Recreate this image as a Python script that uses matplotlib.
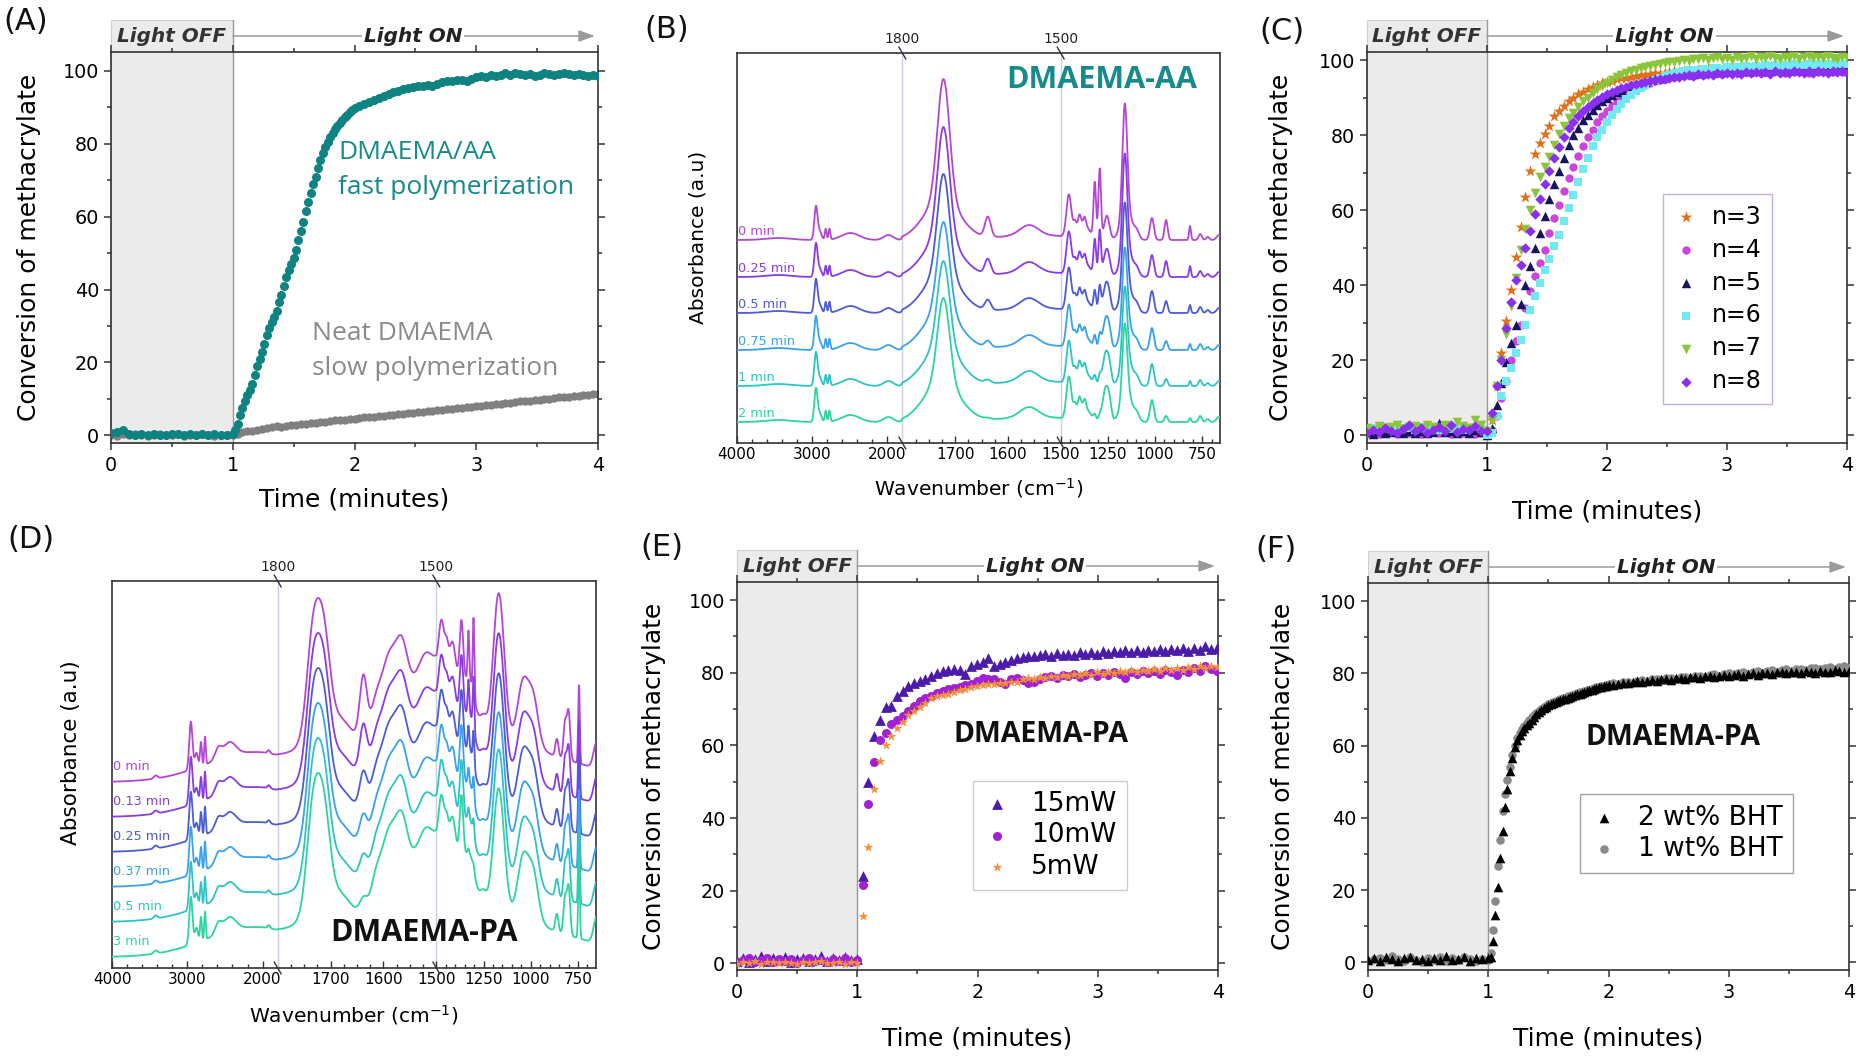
import numpy as np
import matplotlib
matplotlib.use('Agg')
import matplotlib.pyplot as plt
import matplotlib.transforms as mtrans
from matplotlib.ticker import FixedLocator, MultipleLocator, NullFormatter
from matplotlib.patches import Rectangle

plt.rcParams['font.family'] = ['DejaVu Sans']
plt.rcParams['axes.edgecolor'] = '#333333'
plt.rcParams['axes.linewidth'] = 1.2

# ---------------- data: panel A ----------------
A_OFF_TEAL = [0.6, 0.9, 1.6, 0.5, 0.2, 0.3, 0.0, 0.4, 0.1, 0.2, 0.5, 0.3, 0.1, 0.4, 0.0, 0.3, 0.2, 0.4, 0.1, 0.2]
A_OFF_GRAY = [0.2, -0.1, 0.3, 0.0, 0.4, 0.1, -0.2, 0.2, 0.3, 0.0, 0.1, 0.4, -0.1, 0.2, 0.0, 0.3, 0.1, -0.1, 0.2, 0.0]
A_TEAL_1 = [0.5, 1.5, 3.0, 5.5, 7.5, 9.5, 11.0, 12.5, 14.0, 16.5, 19.0, 21.0, 23.0, 25.0, 27.5, 29.5, 31.0,
            32.5, 34.0, 36.5, 38.5, 41.0, 43.5, 45.5, 47.0, 48.8, 51.0, 53.5, 56.0, 58.5, 61.5, 64.0, 66.5,
            69.0, 71.0, 73.5, 75.5, 77.5, 79.0, 80.5, 82.0, 83.0, 84.0, 85.0, 85.8, 86.6, 87.3, 88.0, 88.6,
            89.2, 89.8]
A_TEAL_2 = [90.4, 91.0, 91.5, 92.0, 92.6, 93.2, 93.6, 94.2, 94.5, 95.0, 95.3, 95.6, 95.9, 96.0, 96.2, 96.0,
            96.5, 97.0, 97.3, 97.2, 97.5, 97.6, 97.2, 97.8, 98.3, 98.6, 98.4, 98.9, 98.6, 98.9, 99.3, 99.0,
            99.4, 99.1, 98.9, 99.2, 98.7, 99.0, 99.4, 99.1, 98.8, 99.2, 99.5, 99.1, 98.8, 99.2, 99.0, 98.6,
            98.9, 98.7]
A_GRAY = [0.0, 0.4, 0.8, 1.1, 1.3, 1.6, 1.8, 2.0, 2.2, 2.5, 2.4, 2.6, 2.8, 2.9, 3.0, 3.2, 3.4, 3.3, 3.6, 3.7,
          3.9, 4.1, 4.1, 4.3, 4.5, 4.6, 4.7, 4.9, 5.0, 5.1, 5.3, 5.4, 5.5, 5.7, 5.8, 5.9, 6.1, 6.2, 6.3, 6.5,
          6.6, 6.8, 6.9, 7.0, 7.2, 7.3, 7.4, 7.6, 7.7, 7.9, 8.0, 8.1, 8.3, 8.4, 8.6, 8.7, 8.8, 9.0, 9.1, 9.3,
          9.4, 9.5, 9.7, 9.8, 10.0, 10.1, 10.2, 10.4, 10.5, 10.6, 10.8, 10.9, 11.0, 11.2, 11.3, 11.4]

# ---------------- data: panel C ----------------
C_LABELS = ['n=3', 'n=4', 'n=5', 'n=6', 'n=7', 'n=8']
C_OFF = [
    [1.2, 0.8, 1.5, 0.6, 1.0, 1.8, 0.9, 1.3, 0.7, 1.6, 1.1, 0.8, 1.4, 1.9, 1.0, 0.6, 1.2, 1.7, 1.1, 2.0],
    [0.5, 1.0, 0.3, 0.8, 1.2, 0.4, 0.9, 0.6, 1.1, 0.2, 0.7, 1.3, 0.5, 0.9, 0.4, 1.0, 0.6, 0.8, 0.3, 0.7],
    [0.8, 0.4, 1.1, 0.6, 0.9, 1.4, 0.5, 1.0, 0.7, 1.2, 0.6, 0.9, 3.2, 0.8, 1.1, 0.5, 1.0, 0.7, 1.3, 0.9],
    [1.6, 1.9, 1.3, 2.2, 1.7, 1.4, 2.0, 1.8, 1.5, 2.3, 1.6, 1.9, 1.4, 2.1, 1.7, 2.0, 1.5, 1.8, 2.2, 1.6],
    [2.0, 1.5, 2.4, 1.8, 2.2, 2.8, 1.6, 2.1, 2.5, 1.9, 2.7, 2.3, 1.8, 2.6, 2.0, 3.5, 2.4, 1.9, 4.0, 2.6],
    [0.6, 1.4, 0.9, 2.0, 1.2, 0.5, 1.6, 2.6, 1.0, 1.8, 0.7, 1.5, 2.2, 1.1, 2.8, 0.9, 1.7, 1.3, 2.4, 1.0],
]
C_ON = [
    [0.5, 4, 13, 22, 30.5, 38.7, 47.5, 55.5, 63.5, 70.5, 75, 78, 80.4, 82.5, 85, 86.5, 87.8, 89, 90, 91,
     91.6, 92.3, 92.8, 93.3, 93.8, 94.2, 94.5, 94.9, 95.2, 95.3, 95.6, 95.8, 96.0, 96.1, 96.3, 96.5, 96.4,
     96.7, 96.9, 97.0, 96.8, 97.1, 97.3, 96.9, 97.4, 97.2, 97.6, 97.0, 97.5, 97.3, 97.8, 97.2, 97.6, 97.4,
     97.9, 97.3, 97.7, 97.5, 97.2, 97.8, 97.4, 97.6, 98.0, 97.3, 97.7, 97.5, 97.9, 97.4, 97.8, 97.6, 98.1,
     97.5, 97.7, 97.9, 97.4, 97.8],
    [0, 1.5, 5, 10, 14.5, 20, 25, 29.5, 34, 38.5, 42.5, 46, 49.5, 54, 58, 61.5, 65, 68.5, 71.5, 74.5, 77,
     79.5, 81.5, 83.5, 85, 86.5, 87.8, 89, 90, 90.9, 91.7, 92.4, 93.0, 93.5, 94.0, 94.4, 94.8, 95.1, 95.4,
     95.6, 95.8, 96.0, 96.2, 95.9, 96.4, 96.1, 96.5, 96.3, 96.7, 96.4, 96.8, 96.5, 96.9, 96.6, 96.8, 96.5,
     97.0, 96.7, 96.9, 96.6, 97.1, 96.8, 96.6, 97.0, 96.8, 97.2, 96.9, 96.7, 97.1, 96.8, 97.2, 97.0, 96.8,
     97.1, 96.9, 97.3],
    [0, 2, 8, 14, 19.5, 24.5, 29.5, 35, 40, 45, 50, 54, 58.5, 63, 67, 70.5, 74, 77.5, 80, 82, 84, 85.5,
     86.8, 88, 89.2, 90, 90.8, 91.5, 92.1, 92.6, 93.1, 93.5, 93.9, 94.3, 94.7, 95.0, 95.3, 95.6, 95.8, 96.0,
     96.2, 96.4, 96.6, 96.3, 96.8, 96.6, 97.0, 96.8, 97.1, 96.9, 97.3, 97.0, 97.4, 97.1, 97.5, 97.2, 97.6,
     97.3, 97.5, 97.2, 97.7, 97.4, 97.6, 97.3, 97.8, 97.5, 97.4, 97.7, 97.5, 97.9, 97.6, 97.4, 97.8, 97.6,
     97.9, 97.7],
    [0, 0.5, 5, 10.5, 14.5, 18, 21.8, 25.5, 29.5, 33.5, 37, 40.5, 44, 47, 50.5, 53.5, 57, 60.5, 64, 67.5,
     71, 74, 77, 79.5, 81.5, 83.5, 85.3, 87, 88.4, 89.6, 90.7, 91.7, 92.6, 93.4, 94.1, 94.7, 95.2, 95.7,
     96.1, 96.5, 96.8, 97.1, 97.3, 97.0, 97.5, 97.6, 97.4, 97.8, 97.9, 97.6, 98.1, 98.0, 98.3, 97.9, 98.4,
     98.2, 98.5, 98.1, 98.6, 98.4, 98.7, 98.3, 98.8, 98.5, 98.9, 98.6, 98.8, 99.0, 98.7, 99.1, 98.8, 99.0,
     98.7, 99.2, 98.9, 99.1],
    [1, 4, 13, 20, 27, 34.5, 42, 49.5, 55, 60, 64.5, 68.9, 71.5, 74.2, 77.5, 80.4, 82.5, 84.5, 86, 87.5, 89,
     90, 91.2, 92.2, 93.2, 94, 94.8, 95.5, 96.1, 96.6, 97.1, 97.5, 97.9, 98.2, 98.5, 98.8, 99.0, 99.3, 99.5,
     99.6, 99.8, 100.1, 99.8, 100.4, 100.2, 100.6, 100.0, 100.5, 100.8, 100.3, 100.7, 100.1, 100.9, 100.4,
     100.6, 101.0, 100.3, 100.8, 100.5, 101.1, 100.6, 100.2, 100.9, 100.7, 101.0, 100.4, 100.8, 101.2, 100.6,
     100.9, 100.5, 101.0, 100.7, 100.3, 100.9, 100.6],
    [1, 6, 13, 20, 28.5, 35.5, 41.3, 45.5, 50, 54.5, 59, 63, 67, 70.5, 74, 76.9, 79.5, 81.8, 83.5, 85, 86.5,
     87.5, 88.5, 89.5, 90.3, 91, 91.6, 92.1, 92.5, 92.9, 93.3, 93.6, 93.9, 94.2, 94.4, 94.7, 94.9, 95.1,
     95.3, 95.5, 95.6, 95.8, 96.0, 95.7, 96.2, 96.0, 96.4, 96.1, 96.5, 96.3, 96.6, 96.2, 96.7, 96.4, 96.8,
     96.5, 96.9, 96.6, 96.8, 96.4, 97.0, 96.7, 96.9, 96.5, 97.1, 96.8, 96.6, 97.0, 96.7, 97.2, 96.9, 96.6,
     97.0, 96.8, 97.1, 96.7],
]

# ---------------- data: panel E ----------------
E_LABELS = ['15mW', '10mW', '5mW']
E_OFF = [
    [0.8, 1.5, 0.4, 1.2, 2.0, 0.7, 1.4, 0.9, 1.8, 0.5, 1.1, 1.6, 0.6, 1.3, 2.1, 0.8, 1.5, 1.0, 1.7, 0.9, 1.2],
    [0.3, 0.9, 1.4, 0.5, 1.0, 1.6, 0.4, 1.1, 0.7, 1.3, 0.2, 0.9, 1.5, 0.6, 1.0, 0.3, 1.2, 0.8, 1.4, 0.5, 1.0],
    [-0.2, 0.4, 0.1, 0.6, -0.1, 0.3, 0.5, 0.0, 0.4, 0.2, -0.1, 0.5, 0.1, 0.3, 0.6, 0.0, 0.2, 0.4, -0.2, 0.3, 0.1],
]
E_ON = [
    [24, 50, 62.5, 67, 70.5, 71, 73.5, 75, 76.5, 77.2, 77.8, 78.4, 79.2, 80, 80.5, 80.7, 81, 80.8, 79.6, 81.8,
     82.3, 83, 84, 81.8, 82.5, 83, 83.6, 84, 84.3, 84.5, 84.6, 84.8, 85.2, 84.5, 85.5, 85.0, 85.3, 84.8,
     85.6, 85.2, 85.7, 85.3, 85.9, 85.4, 86.0, 85.6, 86.3, 85.8, 86.2, 85.7, 86.4, 86.0, 86.5, 86.1, 86.6,
     86.2, 86.8, 86.0, 86.9, 86.3, 87.3, 86.5, 86.8],
    [21.5, 44, 55.5, 61.5, 63.3, 66, 67, 68, 69.5, 70.8, 72.3, 73, 73.6, 74.5, 75, 75.5, 75.8, 76.1, 76.6,
     77, 77.8, 78.7, 78.4, 78.2, 77.6, 77, 78.2, 78.7, 78.0, 77.2, 77.6, 78.3, 78.8, 79.2, 78.6, 79.4, 79.0,
     79.6, 78.8, 79.5, 79.9, 79.2, 80.0, 79.4, 80.2, 79.6, 78.6, 80.3, 79.8, 80.6, 79.9, 80.4, 79.7, 80.8,
     80.2, 79.5, 80.9, 80.3, 81.2, 80.5, 82.0, 81.0, 80.6],
    [13, 32, 48, 55.8, 60, 62.5, 64.7, 66.5, 68.3, 69.5, 70.6, 71.8, 73, 73.6, 74, 74.3, 74.8, 75.2, 75.6,
     76.1, 76.4, 76.7, 76.9, 77.0, 77.3, 77.2, 77.5, 77.6, 78.2, 78.7, 78.3, 78.9, 78.5, 79.1, 78.8, 79.4,
     79.1, 79.7, 79.3, 79.9, 79.5, 80.1, 79.7, 80.3, 79.9, 80.5, 80.1, 80.7, 80.2, 80.9, 80.4, 81.0, 80.6,
     81.2, 80.8, 81.4, 80.9, 81.6, 81.1, 81.8, 81.3, 82.0, 81.5],
]

# ---------------- data: panel F ----------------
F_LABELS = ['2 wt% BHT', '1 wt% BHT']
F_OFF = [
    [0.8, 1.2, 0.5, 1.5, 0.9, 0.3, 1.1, 1.6, 0.7, 1.0, 0.4, 1.3, 0.8, 1.7, 0.6, 1.0, 1.4, 0.5, 1.2, 0.9, 1.1],
    [0.3, 0.9, 1.3, 0.6, 1.8, 1.0, 0.5, 1.4, 0.8, 0.2, 1.2, 0.7, 1.5, 0.4, 1.1, 0.6, 1.6, 0.9, 0.3, 1.0, 0.6],
]
F_ON_1 = [
    [1.5, 6, 13, 21, 29, 36.5, 43, 48, 53, 56.5, 59.5, 61.5, 62.8, 64, 64.8, 65.6, 66.3, 67, 68, 68.8, 69.3,
     69.9, 70.4, 70.8, 71.1, 71.4, 71.7, 72.0, 72.3, 72.5, 72.8, 73.0, 73.3, 73.5, 73.8, 74.0, 74.2, 74.4,
     74.6, 74.9, 75.1, 75.3, 75.5, 75.7, 75.9, 76.1, 76.2, 76.4, 76.6, 76.8],
    [2.5, 9, 17, 26.7, 34, 42, 46.5, 50.5, 54, 57.5, 60, 62, 63.5, 64.6, 65.5, 66.3, 67.1, 67.8, 68.5, 69.1,
     69.7, 70.2, 70.6, 71.0, 71.4, 71.7, 72.0, 72.3, 72.6, 72.8, 73.1, 73.3, 73.6, 73.8, 74.0, 74.3, 74.5,
     74.7, 74.9, 75.1, 75.3, 75.5, 75.7, 75.9, 76.1, 76.3, 76.4, 76.6, 76.8, 77.0],
]
F_ON_2 = [
    [76.9, 77.1, 77.3, 77.2, 77.6, 77.8, 77.5, 78.0, 78.2, 77.9, 78.3, 78.5, 78.2, 78.6, 78.8, 78.5, 78.9,
     79.1, 78.7, 79.2, 79.3, 79.0, 79.4, 79.6, 79.2, 79.6, 79.8, 79.4, 79.9, 80.0, 79.6, 80.1, 80.2, 79.8,
     80.3, 80.4, 80.0, 80.5, 80.3, 80.1, 80.6, 80.4, 80.2, 80.7, 80.5, 80.3, 80.8, 80.6, 80.4, 80.7],
    [77.2, 77.0, 77.5, 77.7, 77.4, 77.9, 78.1, 77.8, 78.3, 78.4, 78.1, 78.6, 78.8, 78.4, 78.9, 79.1, 78.8,
     79.3, 79.4, 79.0, 79.6, 79.8, 79.4, 79.9, 80.1, 79.7, 80.2, 80.3, 79.9, 80.4, 80.6, 80.2, 80.7, 80.8,
     80.4, 80.9, 81.1, 80.6, 81.2, 81.3, 80.9, 81.4, 81.6, 81.1, 81.6, 81.8, 81.3, 81.7, 81.9, 81.5],
]

# ---------------- data: FTIR spectra (peak tables, heights in px-like units) ----------------
B_TIMES = ['0 min', '0.25 min', '0.5 min', '0.75 min', '1 min', '2 min']
B_OFFSETS = [203, 166, 130, 93, 57, 21]
B_PEAKS = [(3450, 2, 400), (2950, 33, 50), (2900, 8, 60), (2820, 11, 28), (2770, 11, 28), (2490, 7, 280),
           (1985, 5, 150), (1725, 40, 80), (1560, 10, 40), (1550, 5, 150), (1457, 40, 30), (1390, 18, 90),
           (1425, 6, 15), (1400, 8, 15), (1372, 7, 15), (1255, 22, 30), (1150, 28, 70), (1096, 6, 30),
           (1016, 22, 25), (760, 6, 20), (720, 3, 20), (660, 5, 30)]
B_VAR = [(1722, 27, [121, 110, 99, 88, 85, 84]),
         (1638, 13, [20, 15, 10, 6, 3, 1]),
         (1319, 16, [55, 35, 20, 12, 8, 5]),
         (1293, 16, [70, 45, 25, 14, 9, 5]),
         (1270, 30, [3, 8, 12, 15, 17, 18]),
         (1240, 25, [2, 6, 9, 12, 13, 14]),
         (1160, 30, [110, 97, 84, 76, 73, 72]),
         (941, 20, [20, 16, 12, 9, 7, 6]),
         (814, 12, [14, 11, 8, 6, 5, 4])]

D_TIMES = ['0 min', '0.13 min', '0.25 min', '0.37 min', '0.5 min', '3 min']
D_OFFSETS = [186, 151, 116, 81, 46, 11]
D_PEAKS = [(2100, 30, 1500), (3420, 3, 60), (2953, 48, 50), (2880, 15, 50), (2819, 24, 28), (2765, 28, 24),
           (2591, 10, 100), (2443, 14, 200), (1919, 3, 40), (1733, 100, 28), (1713, 90, 28), (1710, 25, 82),
           (1680, 15, 40), (1615, 18, 20), (1590, 55, 35), (1565, 44, 25), (1530, 65, 165), (1520, 21, 30),
           (1473, 50, 35), (1445, 22, 22), (1415, 32, 35), (1380, 80, 212), (1367, 60, 22), (1320, 20, 50),
           (1250, 15, 40), (1060, 30, 283), (1040, 60, 70), (985, 42, 60), (862, 18, 20), (819, 36, 20),
           (800, 48, 20), (780, 15, 351), (745, 78, 10), (650, 28, 40)]
D_VAR = [(1638, 16, [59, 45, 33, 25, 20, 12]),
         (1330, 10, [47, 33, 22, 15, 10, 4]),
         (1303, 10, [76, 52, 33, 22, 15, 5]),
         (1170, 70, [153, 148, 143, 139, 137, 133])]

SPEC_COLORS = ['#b446d6', '#8b3be6', '#4b5cd6', '#39a2ee', '#2dc4c6', '#2bd69e']
WN_MAJOR = [4000, 3000, 2000, 1700, 1600, 1500, 1250, 1000, 750]
WN_MINOR = [3800, 3600, 3400, 3200, 2800, 2600, 2400, 2200, 1775, 1750, 1725, 1675, 1650, 1625, 1575,
            1550, 1525, 1450, 1400, 1350, 1300, 1200, 1150, 1100, 1050, 950, 900, 850, 800, 700]
WN_BREAKS = [1800, 1500]

# broken wavenumber axis: three linear segments
_XP = [-1e5, 655, 1500, 1800, 4000, 1e5]
_FP = [-(655 + 1e5) * 159 / 845, 0, 159, 317, 482, 482 + (1e5 - 4000) * 165 / 2200]
def wn_fwd(w):
    return np.interp(np.asarray(w, float), _XP, _FP)
def wn_inv(u):
    return np.interp(np.asarray(u, float), _FP, _XP)

def gauss(w, c, h, f):
    return h * np.exp(-4 * np.log(2) * ((w - c) / f) ** 2)

W, H = 1863, 1057
fig = plt.figure(figsize=(W / 100, H / 100), dpi=100)
fig.patch.set_facecolor('white')

def add_ax(x0, x1, top, bottom):
    return fig.add_axes([x0 / W, 1 - bottom / H, (x1 - x0) / W, (bottom - top) / H])

def kinetic(ax, ylim, h_px, ylab_x, xlab_y):
    ax.set_xlim(0, 4)
    ax.set_ylim(*ylim)
    ax.xaxis.set_major_locator(MultipleLocator(1))
    ax.xaxis.set_minor_locator(MultipleLocator(0.5))
    ax.yaxis.set_major_locator(MultipleLocator(20))
    ax.yaxis.set_minor_locator(MultipleLocator(10))
    ax.tick_params(which='both', direction='out', top=True, right=True, color='#333333', width=1.1,
                   labelsize=13.8)
    ax.tick_params(which='major', length=5)
    ax.tick_params(which='minor', length=3)
    ax.tick_params(axis='x', pad=4.5)
    ax.tick_params(axis='y', pad=3.5)
    ax.set_xlabel('Time (minutes)', fontsize=18)
    ax.set_ylabel('Conversion of methacrylate', fontsize=18)
    ax.yaxis.set_label_coords(ylab_x, 0.5)
    ax.xaxis.set_label_coords(0.5, xlab_y)
    xt = ax.get_xaxis_transform()
    top = 1 + 32 / h_px
    ty = 1 + 16 / h_px
    ax.add_patch(Rectangle((0, 0), 1, top, transform=xt, facecolor='#ebebeb', edgecolor='#d0d0d0',
                           lw=0.8, clip_on=False, zorder=0.5))
    ax.plot([1, 1], [0, top], transform=xt, color='#9a9a9a', lw=1.0, clip_on=False, zorder=0.6)
    ax.annotate('', xy=(3.975, ty), xytext=(1.0, ty), xycoords=xt, textcoords=xt,
                arrowprops=dict(arrowstyle='-|>,head_length=0.7,head_width=0.25', color='#9a9a9a', lw=1.1,
                                shrinkA=0, shrinkB=0, mutation_scale=14), annotation_clip=False)
    ax.text(0.5, ty, 'Light OFF', transform=xt, ha='center', va='center', fontsize=14.4,
            fontweight='bold', style='italic', color='#333333')
    ax.text(2.48, ty, 'Light ON', transform=xt, ha='center', va='center', fontsize=14.4,
            fontweight='bold', style='italic', color='#222222',
            bbox=dict(facecolor='white', edgecolor='none', pad=1.5))

def spectra(ax, offsets, peaks, var, labels, label_dy, ylab_size, ylab_xy, xlab_y):
    wn = np.linspace(4000, 655, 6691)
    ax.set_xscale('function', functions=(wn_fwd, wn_inv))
    for i, off in enumerate(offsets):
        y = np.full_like(wn, float(off))
        for c, h, f in peaks:
            y += gauss(wn, c, h, f)
        for c, f, hs in var:
            y += gauss(wn, c, hs[i], f)
        ax.plot(wn, y, color=SPEC_COLORS[i], lw=1.3, zorder=3)
        ax.text(3985, off + label_dy, labels[i], color=SPEC_COLORS[i], fontsize=9.3, ha='left',
                va='bottom', zorder=4)
    ax.set_xlim(4000, 655)
    ax.xaxis.set_major_locator(FixedLocator(WN_MAJOR))
    ax.xaxis.set_minor_locator(FixedLocator(WN_MINOR))
    ax.set_xticks(WN_MAJOR, labels=[str(v) for v in WN_MAJOR])
    ax.xaxis.set_minor_formatter(NullFormatter())
    ax.tick_params(axis='x', which='both', direction='in', top=False, color='#333333', width=1.0,
                   labelsize=11, pad=3)
    ax.tick_params(axis='x', which='major', length=5)
    ax.tick_params(axis='x', which='minor', length=3)
    ax.tick_params(axis='y', left=False, labelleft=False)
    ax.set_xlabel('Wavenumber (cm$^{-1}$)', fontsize=14.5)
    ax.set_ylabel('Absorbance (a.u)', fontsize=ylab_size)
    ax.yaxis.set_label_coords(*ylab_xy)
    ax.xaxis.set_label_coords(0.5, xlab_y)
    xt = ax.get_xaxis_transform()
    for wb in WN_BREAKS:
        ax.axvline(wb, color='#cfcfe2', lw=1.0, zorder=1)
        for yy in (0, 1):
            ax.annotate('', xy=(wb, yy), xycoords=mtrans.offset_copy(xt, fig=fig, x=3.5, y=-6, units='dots'),
                        xytext=(-7, 12), textcoords='offset pixels',
                        arrowprops=dict(arrowstyle='-', color='#333333', lw=1.0, shrinkA=0, shrinkB=0),
                        annotation_clip=False)
        ax.text(wb, 1, str(wb), transform=mtrans.offset_copy(xt, fig=fig, y=14, units='dots'),
                ha='center', va='center', fontsize=10, color='#222222')

# ---------------- (A) ----------------
axA = add_ax(111, 598, 52, 443)
kinetic(axA, (-2.1, 105.2), 391, -0.144, -0.115)
t_off = np.arange(len(A_OFF_TEAL)) * 0.05
axA.scatter(t_off, A_OFF_GRAY, s=36, color='#808080', lw=0, zorder=2)
axA.scatter(1.0 + 0.04 * np.arange(len(A_GRAY)), A_GRAY, s=36, color='#808080', lw=0, zorder=2)
axA.scatter(t_off, A_OFF_TEAL, s=42, color='#0f8282', lw=0, zorder=3)
axA.scatter(1.0 + 0.02 * np.arange(len(A_TEAL_1)), A_TEAL_1, s=42, color='#0f8282', lw=0, zorder=3)
axA.scatter(2.04 + 0.04 * np.arange(len(A_TEAL_2)), A_TEAL_2, s=42, color='#0f8282', lw=0, zorder=3)
axA.text(1.864, 77.7, 'DMAEMA/AA', family='Open Sans', fontsize=19, color='#168a8a', ha='left', va='center')
axA.text(1.864, 68.1, 'fast polymerization', family='Open Sans', fontsize=19, color='#168a8a', ha='left', va='center')
axA.text(1.651, 28.0, 'Neat DMAEMA', family='Open Sans', fontsize=19, color='#8a8a8a', ha='left', va='center')
axA.text(1.651, 18.4, 'slow polymerization', family='Open Sans', fontsize=19, color='#8a8a8a', ha='left', va='center')

# ---------------- (B) ----------------
axB = add_ax(737, 1220, 53, 443)
axB.set_ylim(0, 390)
spectra(axB, B_OFFSETS, B_PEAKS, B_VAR, B_TIMES, 2, 14.5, (-0.062, 0.526), -0.085)
axB.text(0.756, 0.931, 'DMAEMA-AA', transform=axB.transAxes, family='Open Sans', fontweight='bold',
         fontsize=22, color='#178b8b', ha='center', va='center')

# ---------------- (C) ----------------
axC = add_ax(1367, 1847, 52, 443)
kinetic(axC, (-2.1, 102.2), 391, -0.154, -0.145)
C_STYLE = [('*', '#e0701a', 80), ('o', '#cc44dd', 36), ('^', '#16165e', 46),
           ('s', '#70eaf0', 32), ('v', '#8cc43c', 48), ('D', '#8a2ef0', 28)]
for (mk, col, sz), lab, off, on in zip(C_STYLE, C_LABELS, C_OFF, C_ON):
    t = np.concatenate([np.arange(len(off)) * 0.05, 1.0 + 0.04 * np.arange(len(on))])
    axC.scatter(t, off + on, marker=mk, s=sz, color=col, lw=0, label=lab, zorder=3)
axC.legend(loc='upper left', bbox_to_anchor=(0.617, 0.637), fontsize=17, frameon=True, fancybox=False,
           edgecolor='#b39ddb', borderpad=0.45, labelspacing=0.38, handlelength=1.0, handletextpad=0.6,
           borderaxespad=0, scatterpoints=1)

# ---------------- (D) ----------------
axD = add_ax(112, 596, 581, 968)
axD.set_ylim(0, 387)
spectra(axD, D_OFFSETS, D_PEAKS, D_VAR, D_TIMES, 9, 15.5, (-0.064, 0.556), -0.09)
axD.text(0.645, 0.09, 'DMAEMA-PA', transform=axD.transAxes, family='Open Sans', fontweight='bold',
         fontsize=22, color='#111111', ha='center', va='center')

# ---------------- (E) ----------------
axE = add_ax(737, 1218, 582, 970)
kinetic(axE, (-1.8, 105.0), 388, -0.148, -0.145)
E_STYLE = [('^', '#4a1ca8', 60), ('o', '#a21fd2', 42), ('*', '#f0903a', 55)]
for (mk, col, sz), lab, off, on in zip(E_STYLE, E_LABELS, E_OFF, E_ON):
    t = np.concatenate([np.arange(len(off)) * 0.05, 1.045 + 0.0475 * np.arange(len(on))])
    axE.scatter(t, off + on, marker=mk, s=sz, color=col, lw=0, label=lab, zorder=3)
axE.legend(loc='upper left', bbox_to_anchor=(0.491, 0.488), fontsize=19, frameon=True, fancybox=False,
           edgecolor='#c4c4c4', borderpad=0.4, labelspacing=0.2, handlelength=1.0, handletextpad=0.8,
           borderaxespad=0, scatterpoints=1)
axE.text(0.633, 0.606, 'DMAEMA-PA', transform=axE.transAxes, family='Open Sans', fontweight='bold',
         fontsize=20.5, color='#111111', ha='center', va='center')

# ---------------- (F) ----------------
axF = add_ax(1368, 1849, 583, 970)
kinetic(axF, (-2.1, 105.0), 387, -0.152, -0.145)
F_STYLE = [('^', '#000000', 48, 4), ('o', '#8a8a8a', 38, 3)]
for (mk, col, sz, z), lab, off, on1, on2 in zip(F_STYLE, F_LABELS, F_OFF, F_ON_1, F_ON_2):
    t = np.concatenate([np.arange(len(off)) * 0.05, 1.02 + 0.02 * np.arange(len(on1)),
                        2.04 + 0.04 * np.arange(len(on2))])
    axF.scatter(t, off + on1 + on2, marker=mk, s=sz, color=col, lw=0, label=lab, zorder=z)
axF.legend(loc='upper left', bbox_to_anchor=(0.441, 0.454), fontsize=19, frameon=True, fancybox=False,
           edgecolor='#8c8c8c', borderpad=0.4, labelspacing=0.2, handlelength=1.0, handletextpad=0.8,
           borderaxespad=0, scatterpoints=1)
axF.text(0.635, 0.60, 'DMAEMA-PA', transform=axF.transAxes, family='Open Sans', fontweight='bold',
         fontsize=20.5, color='#111111', ha='center', va='center')

# panel letters
for lab, (x, y) in zip(['(A)', '(B)', '(C)', '(D)', '(E)', '(F)'],
                       [(26, 22), (667, 29), (1282, 31), (31, 540), (662, 548), (1276, 549)]):
    fig.text(x / W, 1 - y / H, lab, fontsize=22, ha='center', va='center', color='#111111')

fig.savefig('out.png', dpi=100)
